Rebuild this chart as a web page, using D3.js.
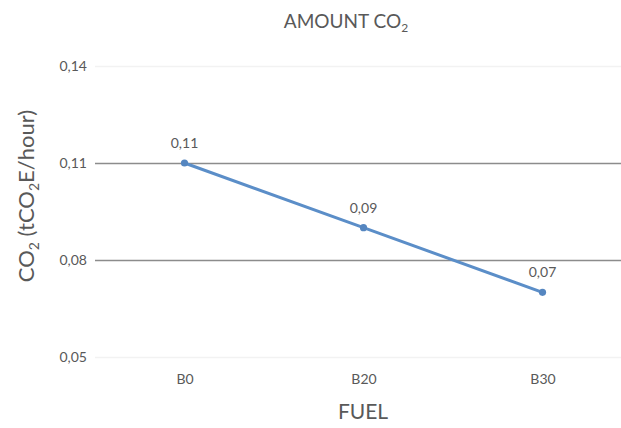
<!DOCTYPE html>
<html>
<head>
<meta charset="utf-8">
<script src="https://cdn.jsdelivr.net/npm/d3@7"></script>
<style>
  html, body { margin: 0; padding: 0; background: #fff; }
  svg { display: block; font-family: Lato, "Open Sans", sans-serif; }
</style>
</head>
<body>
<svg id="chart" width="621" height="428"></svg>
<script>
// CO2 emission per fuel blend
const categories = ["B0", "B20", "B30"];
const co2Values = [0.11, 0.09, 0.07];
const yTickValues = [0.05, 0.08, 0.11, 0.14];
const yTickLabels = ["0,05", "0,08", "0,11", "0,14"];
const valueLabels = ["0,11", "0,09", "0,07"];

const svg = d3.select("#chart");
const textColor = "#595959";
const fontStack = "Lato, 'Open Sans', sans-serif";

const x = d3.scalePoint().domain(categories).range([95, 632]).padding(0.5);
const y = d3.scaleLinear().domain([0.05, 0.14]).range([357, 66]);

// horizontal gridlines
svg.append("g")
  .selectAll("line")
  .data(yTickValues)
  .join("line")
  .attr("x1", 95).attr("x2", 621)
  .attr("y1", d => Math.round(y(d)) + 0.5)
  .attr("y2", d => Math.round(y(d)) + 0.5)
  .attr("stroke", d => (d === 0.08 || d === 0.11) ? "#8c8c8c" : "#f2f2f2")
  .attr("stroke-width", 1.3);

// y axis tick labels
const yAxis = d3.axisLeft(y)
  .tickValues(yTickValues)
  .tickFormat((d, i) => yTickLabels[i])
  .tickSize(0)
  .tickPadding(0);
const gy = svg.append("g").attr("transform", "translate(87,0)").call(yAxis);
gy.select(".domain").remove();
gy.selectAll("text")
  .attr("fill", textColor)
  .style("font-size", "14px")
  .style("font-family", fontStack);

// x axis category labels
const xAxis = d3.axisBottom(x).tickSize(0).tickPadding(0);
const gx = svg.append("g").attr("transform", "translate(0,374)").call(xAxis);
gx.select(".domain").remove();
gx.selectAll("text")
  .attr("fill", textColor)
  .style("font-size", "14px")
  .style("font-family", fontStack);

// series line
const line = d3.line()
  .x((d, i) => x(categories[i]))
  .y(d => y(d));
svg.append("path")
  .datum(co2Values)
  .attr("d", line)
  .attr("fill", "none")
  .attr("stroke", "#5b8ec8")
  .attr("stroke-width", 3)
  .attr("stroke-linejoin", "round");

// markers
svg.append("g")
  .selectAll("circle")
  .data(co2Values)
  .join("circle")
  .attr("cx", (d, i) => x(categories[i]))
  .attr("cy", d => y(d))
  .attr("r", 3.6)
  .attr("fill", "#5586c0");

// value labels
svg.append("g")
  .selectAll("text")
  .data(co2Values)
  .join("text")
  .attr("x", (d, i) => x(categories[i]))
  .attr("y", d => y(d) - 15)
  .attr("text-anchor", "middle")
  .attr("fill", textColor)
  .style("font-size", "14px")
  .text((d, i) => valueLabels[i]);

// chart title
const title = svg.append("text")
  .attr("x", 346).attr("y", 28)
  .attr("text-anchor", "middle")
  .attr("fill", textColor)
  .style("font-size", "19px");
title.append("tspan").text("AMOUNT CO");
title.append("tspan").attr("dy", 4).style("font-size", "12px").text("2");

// x axis title
svg.append("text")
  .attr("x", 363).attr("y", 419)
  .attr("text-anchor", "middle")
  .attr("fill", textColor)
  .style("font-size", "21px")
  .text("FUEL");

// y axis title
const yTitle = svg.append("text")
  .attr("transform", "translate(34,196) rotate(-90)")
  .attr("text-anchor", "middle")
  .attr("fill", textColor)
  .style("font-size", "22px");
yTitle.append("tspan").text("CO");
yTitle.append("tspan").attr("dy", 5).style("font-size", "14px").text("2");
yTitle.append("tspan").attr("dy", -5).text(" (tCO");
yTitle.append("tspan").attr("dy", 5).style("font-size", "14px").text("2");
yTitle.append("tspan").attr("dy", -5).text("E/hour)");
</script>
</body>
</html>
